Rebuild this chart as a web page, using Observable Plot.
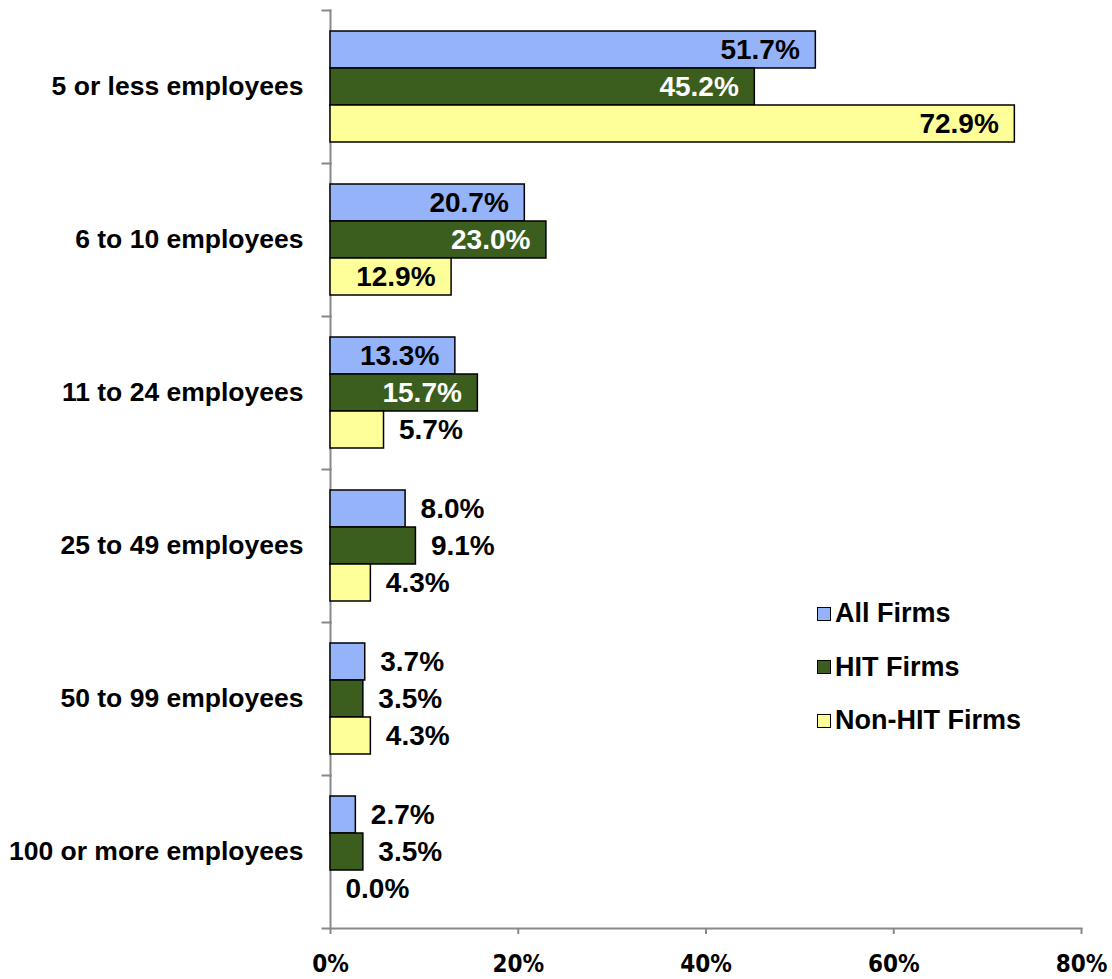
<!DOCTYPE html>
<html>
<head>
<meta charset="utf-8">
<script src="https://cdn.jsdelivr.net/npm/d3@7"></script>
<script src="https://cdn.jsdelivr.net/npm/@observablehq/plot@0.6"></script>
<style>
  html, body { margin: 0; padding: 0; background: #fff; }
  #wrap { position: relative; width: 1112px; height: 979px; font-family: "Liberation Sans", Arial, sans-serif; }
  #legend { position: absolute; left: 817px; top: 587px; font-weight: bold; font-size: 27px; color: #000; }
  #legend .item { display: flex; align-items: center; height: 53.5px; }
  #legend .sw { width: 12px; height: 12px; border: 1.5px solid #000; margin-right: 4px; }
</style>
</head>
<body>
<div id="wrap"><div id="legend"></div></div>
<script>
const categories = ["5 or less employees", "6 to 10 employees", "11 to 24 employees", "25 to 49 employees", "50 to 99 employees", "100 or more employees"];
const series = ["All Firms", "HIT Firms", "Non-HIT Firms"];
const allFirms = [51.7, 20.7, 13.3, 8.0, 3.7, 2.7];
const hitFirms = [45.2, 23.0, 15.7, 9.1, 3.5, 3.5];
const nonHitFirms = [72.9, 12.9, 5.7, 4.3, 4.3, 0.0];
const xTicks = [0, 20, 40, 60, 80];
const colors = ["#95b3f8", "#3b5e1e", "#ffff99"];

const seriesValues = [allFirms, hitFirms, nonHitFirms];
const data = [];
categories.forEach((c, i) => series.forEach((s, j) => data.push({cat: c, series: s, value: seriesValues[j][i]})));

const W = 1112, H = 979, ML = 330, MR = 31, MT = 10, MB = 51;
const font = "Liberation Sans, Arial, sans-serif";
const fmt = v => v.toFixed(1) + "%";
const inside = data.filter(d => d.value >= 10);
const outside = data.filter(d => d.value < 10);

const chart = Plot.plot({
  width: W, height: H,
  marginLeft: ML, marginRight: MR, marginTop: MT, marginBottom: MB,
  style: {fontFamily: font, background: "#fff"},
  x: {domain: [0, 80]},
  y: {domain: series, paddingInner: 0, paddingOuter: 0.55, axis: null},
  fy: {domain: categories, padding: 0},
  color: {domain: series, range: colors},
  marks: [
    Plot.frame({anchor: "left", stroke: "#888", strokeWidth: 2}),
    Plot.frame({anchor: "top", stroke: "#888", strokeWidth: 2, insetLeft: -8, insetRight: W - ML - MR}),
    Plot.frame({anchor: "bottom", stroke: "#888", strokeWidth: 2, insetLeft: -8, fy: [categories[categories.length - 1]]}),
    Plot.barX(data, {fy: "cat", y: "series", x: "value", fill: "series", stroke: "#000", strokeWidth: 1.5}),
    Plot.text(inside, {fy: "cat", y: "series", x: "value", text: d => fmt(d.value), textAnchor: "end", dx: -16,
      fill: d => d.series === "HIT Firms" ? "#fff" : "#000", fontSize: 28, fontWeight: "bold", fontFamily: font}),
    Plot.text(outside, {fy: "cat", y: "series", x: "value", text: d => fmt(d.value), textAnchor: "start", dx: 15,
      fill: "#000", fontSize: 28, fontWeight: "bold", fontFamily: font}),
    Plot.axisFy({anchor: "left", tickSize: 0, tickPadding: 27, label: null, fontSize: 26.5, fontWeight: "bold", fill: "#000", fontFamily: font}),
    Plot.axisX({anchor: "bottom", ticks: xTicks, tickFormat: d => d + "%", tickSize: 6, tickPadding: 20, label: null,
      stroke: "#888", strokeWidth: 2, fill: "#000", fontSize: 24, fontWeight: "bold",
      fontFamily: "Liberation Sans Narrow, DejaVu Sans Condensed, sans-serif"})
  ]
});
document.getElementById("wrap").prepend(chart);

const legend = document.getElementById("legend");
series.forEach((s, j) => {
  const item = document.createElement("div");
  item.className = "item";
  const sw = document.createElement("span");
  sw.className = "sw";
  sw.style.background = colors[j];
  const t = document.createElement("span");
  t.textContent = s;
  item.append(sw, t);
  legend.append(item);
});
</script>
</body>
</html>
